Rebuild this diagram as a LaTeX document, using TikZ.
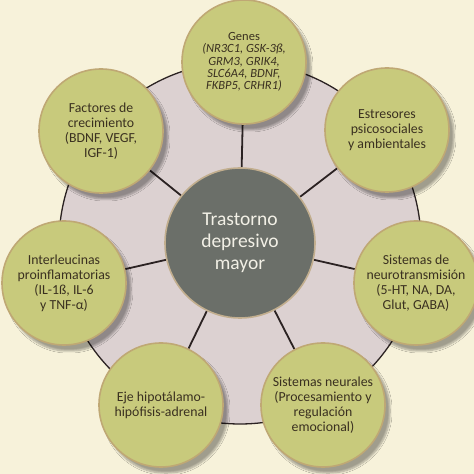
\documentclass[tikz,border=0pt]{standalone}
\usepackage{fontspec}
\setmainfont{Carlito}
\usetikzlibrary{shadows.blur,backgrounds}
\definecolor{bgcream}{HTML}{F7F2DA}
\definecolor{ringfill}{HTML}{DCD1D1}
\definecolor{linedark}{HTML}{2B2222}
\definecolor{leaffill}{HTML}{C8CA7C}
\definecolor{leafedge}{HTML}{BFA874}
\definecolor{hubfill}{HTML}{6B6F69}
\definecolor{hubedge}{HTML}{C2AE8E}
\definecolor{leaftext}{HTML}{3A3020}
\definecolor{hubtext}{HTML}{F2F0E6}
\tikzset{
  leaf/.style={circle, minimum size=124pt, inner sep=0pt, fill=leaffill, draw=leafedge, line width=1.6pt,
    align=center, text=leaftext, font=\fontsize{13.8}{15}\selectfont,
    blur shadow={shadow xshift=5pt, shadow yshift=-6pt, shadow blur steps=8, shadow opacity=35, shadow blur extra rounding=2pt}},
  hub/.style={circle, minimum size=150pt, inner sep=0pt, fill=hubfill, draw=hubedge, line width=1.6pt,
    align=center, text=hubtext, font=\fontsize{19.5}{21.7}\selectfont},
  spoke/.style={draw=linedark, line width=1.8pt},
}
\begin{document}
\begin{tikzpicture}[x=1pt,y=1pt]
\useasboundingbox (0,0) rectangle (474,474);
\coordinate (c) at (240,231);
\node[hub] (hub) at (c) {Trastorno\\depresivo\\mayor};
\node[leaf, font=\fontsize{12.5}{12.4}\selectfont] (genes) at (244,412) {Genes\\\itshape(NR3C1, GSK-3ß,\\\itshape GRM3, GRIK4,\\\itshape SLC6A4, BDNF,\\\itshape FKBP5, CRHR1)};
\node[leaf] (estres) at (387,344) {Estresores\\psicosociales\\y ambientales};
\node[leaf] (neuro) at (416,191) {Sistemas de\\neurotransmisión\\(5-HT, NA, DA,\\Glut, GABA)};
\node[leaf] (neural) at (323,69) {Sistemas neurales\\(Procesamiento y\\regulación\\emocional)};
\node[leaf] (eje) at (161,69) {Eje hipotálamo-\\hipófisis-adrenal};
\node[leaf] (inter) at (64,191) {Interleucinas\\proinflamatorias\\(IL-1ß, IL-6\\y TNF-α)};
\node[leaf] (factores) at (101,343) {Factores de\\crecimiento\\(BDNF, VEGF,\\IGF-1)};
\begin{scope}[on background layer]
  \fill[bgcream] (0,0) rectangle (474,474);
  \fill[ringfill] (c) circle (181);
  \draw[linedark, line width=1.3pt] (c) circle (181);
  \foreach \n in {genes,estres,neuro,neural,eje,inter,factores}{
    \path[spoke] (hub) -- (\n);
  }
\end{scope}
\end{tikzpicture}
\end{document}
